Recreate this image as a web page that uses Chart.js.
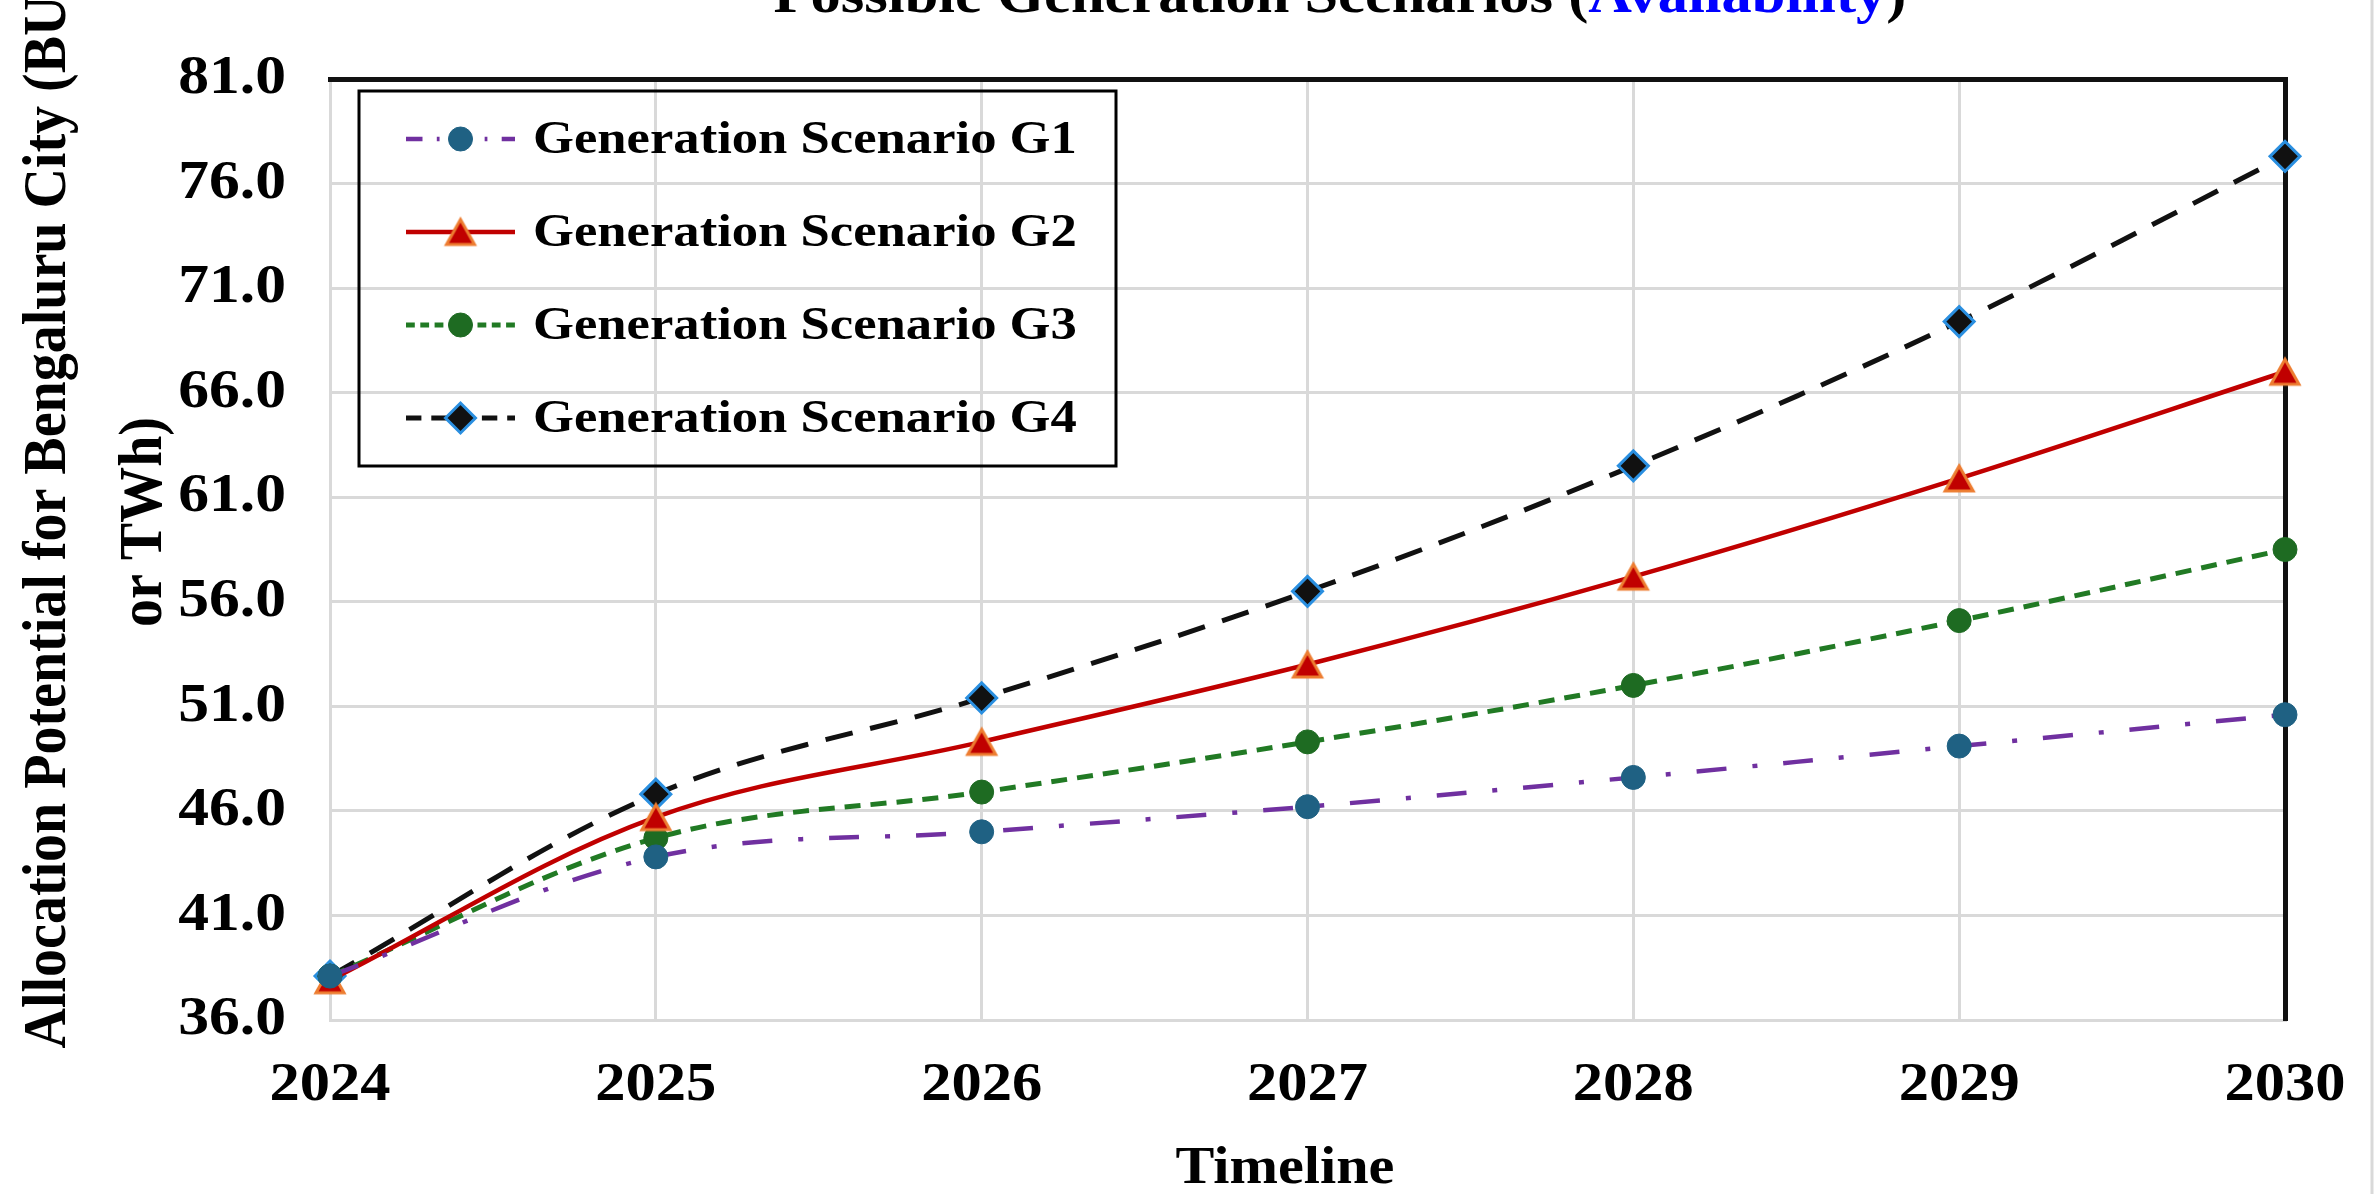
<!DOCTYPE html>
<html>
<head>
<meta charset="utf-8">
<title>Possible Generation Scenarios (Availability)</title>
<script src="https://cdn.jsdelivr.net/npm/chart.js@4/dist/chart.umd.min.js"></script>
<style>
  html, body { margin: 0; padding: 0; background: #ffffff; }
  canvas { display: block; }
</style>
</head>
<body>
<canvas id="chart" width="2374" height="1194"></canvas>
<script>
// ---- data -------------------------------------------------------------
const years = ['2024', '2025', '2026', '2027', '2028', '2029', '2030'];
const seriesNames = [
  'Generation Scenario G1',
  'Generation Scenario G2',
  'Generation Scenario G3',
  'Generation Scenario G4'
];
const g1Values = [38.1, 43.8, 45.0, 46.2, 47.6, 49.1, 50.6];
const g2Values = [37.9, 45.7, 49.3, 53.0, 57.2, 61.9, 67.0];
const g3Values = [38.1, 44.7, 46.9, 49.3, 52.0, 55.1, 58.5];
const g4Values = [38.1, 46.8, 51.4, 56.5, 62.5, 69.4, 77.3];
const yMin = 36.0;
const yMax = 81.0;
const yStep = 5;
const titleParts = ['Possible Generation Scenarios (', 'Availability', ')'];
const xAxisTitle = 'Timeline';
const yAxisTitle = ['Allocation Potential for Bengaluru City (BU', 'or TWh)'];

// ---- styling ----------------------------------------------------------
const SERIF = '"Liberation Serif", "Times New Roman", Times, serif';
const GRID = '#d9d9d9';
const H_STRETCH = 1.12;   // horizontal text is drawn slightly widened

// widened glyphs for horizontal labels (anchor point is kept in place)
const nativeFillText = CanvasRenderingContext2D.prototype.fillText;
CanvasRenderingContext2D.prototype.fillText = function (text, x, y, maxWidth) {
  if (this.plainText) return nativeFillText.call(this, text, x, y, maxWidth);
  this.save();
  this.translate(x, y);
  this.scale(H_STRETCH, 1);
  if (maxWidth === undefined) nativeFillText.call(this, text, 0, 0);
  else nativeFillText.call(this, text, 0, 0, maxWidth / H_STRETCH);
  this.restore();
};

// triangle marker whose bounding box is centred on the point
function makeTriangle(width, height, fill, stroke, lw) {
  const pad = lw + 1;
  const c = document.createElement('canvas');
  c.width = Math.ceil(width + 2 * pad);
  c.height = Math.ceil(height + 2 * pad);
  const g = c.getContext('2d');
  g.beginPath();
  g.moveTo(c.width / 2, pad);
  g.lineTo(c.width - pad, c.height - pad);
  g.lineTo(pad, c.height - pad);
  g.closePath();
  g.fillStyle = fill;
  g.fill();
  g.lineJoin = 'miter';
  g.lineWidth = lw;
  g.strokeStyle = stroke;
  g.stroke();
  return c;
}
const triangleMarker = makeTriangle(28, 25, '#c00000', '#ed7d31', 3);

const datasets = [
  {
    label: seriesNames[0], data: g1Values,
    borderColor: '#7030a0', borderWidth: 4.5, borderDash: [30, 26, 5, 26],
    pointStyle: 'circle', pointRadius: 12,
    pointBackgroundColor: '#1f6183', pointBorderColor: '#1f6183', pointBorderWidth: 1
  },
  {
    label: seriesNames[1], data: g2Values,
    borderColor: '#c00000', borderWidth: 4.5, borderDash: [],
    pointStyle: triangleMarker, pointRadius: 16,
    pointBackgroundColor: '#c00000', pointBorderColor: '#ed7d31', pointBorderWidth: 3
  },
  {
    label: seriesNames[2], data: g3Values,
    borderColor: '#217a24', borderWidth: 5, borderDash: [16, 10],
    pointStyle: 'circle', pointRadius: 12,
    pointBackgroundColor: '#1e6b22', pointBorderColor: '#1e6b22', pointBorderWidth: 1
  },
  {
    label: seriesNames[3], data: g4Values,
    borderColor: '#111111', borderWidth: 5, borderDash: [28, 18],
    pointStyle: 'rectRot', pointRadius: 15,
    pointBackgroundColor: '#111111', pointBorderColor: '#2a8fe0', pointBorderWidth: 3
  }
].map(d => Object.assign(d, {
  fill: false, tension: 0.35, clip: false,
  pointHoverRadius: d.pointRadius
}));

// titles, legend box and outer frame
const decorations = {
  id: 'decorations',
  afterDraw(chart) {
    const ctx = chart.ctx;
    const ca = chart.chartArea;

    // chart title (partly above the canvas edge)
    ctx.save();
    ctx.font = 'bold 54px ' + SERIF;
    ctx.textBaseline = 'alphabetic';
    ctx.textAlign = 'left';
    const widths = titleParts.map(t => ctx.measureText(t).width * H_STRETCH);
    const total = widths.reduce((a, b) => a + b, 0);
    let tx = 1340 - total / 2;
    const colors = ['#000000', '#0000ff', '#000000'];
    titleParts.forEach((t, i) => {
      ctx.fillStyle = colors[i];
      ctx.fillText(t, tx, 12);
      tx += widths[i];
    });
    ctx.restore();

    // x-axis title
    ctx.save();
    ctx.font = 'bold 52px ' + SERIF;
    ctx.fillStyle = '#000';
    ctx.textAlign = 'center';
    ctx.textBaseline = 'middle';
    ctx.fillText(xAxisTitle, 1285, 1170);
    ctx.restore();

    // y-axis title (two lines, rotated, glyphs a little taller)
    const yStretch = 1.1;
    ctx.save();
    ctx.plainText = true;
    ctx.font = 'bold 56px ' + SERIF;
    ctx.fillStyle = '#000';
    ctx.textAlign = 'center';
    ctx.textBaseline = 'middle';
    ctx.translate(49, 522);
    ctx.rotate(-Math.PI / 2);
    ctx.scale(1, yStretch);
    ctx.fillText(yAxisTitle[0], 0, 0);
    ctx.fillText(yAxisTitle[1], 0, 96 / yStretch);
    ctx.plainText = false;
    ctx.restore();

    // legend box inside the plot area
    const bx = ca.left + 29, by = ca.top + 12, bw = 757, bh = 375;
    ctx.save();
    ctx.strokeStyle = '#000';
    ctx.lineWidth = 3;
    ctx.strokeRect(bx, by, bw, bh);
    chart.data.datasets.forEach((ds, i) => {
      const cy = by + 48 + i * 93;
      const x0 = bx + 47, x1 = bx + 156, xm = (x0 + x1) / 2;
      ctx.save();
      ctx.strokeStyle = ds.borderColor;
      ctx.lineWidth = ds.borderWidth;
      ctx.setLineDash(ds.borderDash.map(v => v * 0.55));
      ctx.beginPath();
      ctx.moveTo(x0, cy);
      ctx.lineTo(x1, cy);
      ctx.stroke();
      ctx.setLineDash([]);
      ctx.fillStyle = ds.pointBackgroundColor;
      ctx.strokeStyle = ds.pointBorderColor;
      ctx.lineWidth = ds.pointBorderWidth;
      Chart.helpers.drawPoint(ctx, {
        pointStyle: ds.pointStyle, rotation: 0,
        radius: ds.pointRadius, borderWidth: ds.pointBorderWidth
      }, xm, cy);
      ctx.restore();
      ctx.font = 'bold 47px ' + SERIF;
      ctx.fillStyle = '#000';
      ctx.textAlign = 'left';
      ctx.textBaseline = 'middle';
      ctx.fillText(ds.label, bx + 174, cy + 2);
    });
    ctx.restore();

    // outer frame edge on the right
    ctx.save();
    ctx.strokeStyle = GRID;
    ctx.lineWidth = 3;
    ctx.beginPath();
    ctx.moveTo(chart.width - 2, 0);
    ctx.lineTo(chart.width - 2, chart.height);
    ctx.stroke();
    ctx.restore();
  }
};

new Chart(document.getElementById('chart'), {
  type: 'line',
  data: { labels: years, datasets },
  plugins: [decorations],
  options: {
    responsive: false,
    animation: false,
    devicePixelRatio: 1,
    layout: { padding: { left: 0, top: 79, right: 89, bottom: 0 } },
    plugins: { legend: { display: false }, tooltip: { enabled: false }, title: { display: false } },
    elements: { line: { borderCapStyle: 'butt' } },
    scales: {
      x: {
        type: 'category',
        offset: false,
        afterFit(scale) { scale.height = 174; },
        grid: { color: GRID, lineWidth: 3, drawTicks: false },
        border: { color: GRID, width: 3 },
        ticks: { color: '#000', padding: 34, maxRotation: 0, autoSkip: false,
                 font: { family: SERIF, weight: 'bold', size: 54 } }
      },
      y: {
        type: 'linear',
        min: yMin, max: yMax,
        afterFit(scale) { scale.width = 330; },
        grid: { color: GRID, lineWidth: 3, drawTicks: false },
        border: { color: GRID, width: 3 },
        ticks: { stepSize: yStep, color: '#000', padding: 44,
                 callback: v => Number(v).toFixed(1),
                 font: { family: SERIF, weight: 'bold', size: 55 } }
      },
      xTop: {
        type: 'category', position: 'top', labels: years, offset: false,
        afterFit(scale) { scale.height = 0; },
        grid: { display: false, drawTicks: false },
        border: { display: true, color: '#111', width: 5 },
        ticks: { display: false }
      },
      yRight: {
        type: 'linear', position: 'right', min: yMin, max: yMax,
        afterFit(scale) { scale.width = 0; },
        grid: { display: false, drawTicks: false },
        border: { display: true, color: '#111', width: 5 },
        ticks: { display: false }
      }
    }
  }
});
</script>
</body>
</html>
